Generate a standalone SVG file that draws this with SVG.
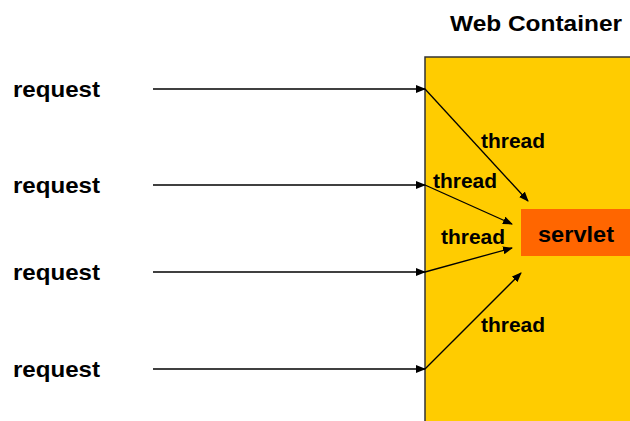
<svg xmlns="http://www.w3.org/2000/svg" width="630" height="421" viewBox="0 0 630 421">
<style>
text{font-family:"Liberation Sans",Arial,sans-serif;font-weight:bold;fill:#000;}
.lbl{font-size:22px;}
.th{font-size:20px;}
.ln{stroke:#000;stroke-width:1.3;fill:none;marker-end:url(#ah);}
</style>
<defs>
<marker id="ah" markerWidth="10" markerHeight="8" refX="9" refY="4" orient="auto" markerUnits="userSpaceOnUse">
<path d="M0,0 L10,4 L0,8 Z" fill="#000"/>
</marker>
</defs>
<rect width="630" height="421" fill="#fff"/>
<g id="container">
<rect x="425" y="57" width="210" height="370" fill="#FFCC00" stroke="#333" stroke-width="1.5"/>
<text x="450" y="31" class="lbl" textLength="172" lengthAdjust="spacingAndGlyphs">Web Container</text>
</g>
<g id="servlet">
<rect x="521" y="209" width="112" height="47" fill="#FF6600"/>
<text x="538" y="242" class="lbl" textLength="76" lengthAdjust="spacingAndGlyphs">servlet</text>
</g>
<g id="req1"><text x="13" y="97" class="lbl" textLength="87" lengthAdjust="spacingAndGlyphs">request</text></g>
<g id="req2"><text x="13" y="193" class="lbl" textLength="87" lengthAdjust="spacingAndGlyphs">request</text></g>
<g id="req3"><text x="13" y="280" class="lbl" textLength="87" lengthAdjust="spacingAndGlyphs">request</text></g>
<g id="req4"><text x="13" y="377" class="lbl" textLength="87" lengthAdjust="spacingAndGlyphs">request</text></g>
<g id="connectors">
<line class="ln" x1="153" y1="89" x2="425" y2="89"/>
<line class="ln" x1="153" y1="185" x2="425" y2="185"/>
<line class="ln" x1="153" y1="272" x2="425" y2="272"/>
<line class="ln" x1="153" y1="369" x2="425" y2="369"/>
<line class="ln" x1="425" y1="89" x2="528" y2="201"/>
<line class="ln" x1="425" y1="185" x2="512" y2="224"/>
<line class="ln" x1="425" y1="272" x2="512" y2="248"/>
<line class="ln" x1="425" y1="369" x2="521" y2="273"/>
</g>
<g id="labels">
<text x="481" y="148" class="th" textLength="64" lengthAdjust="spacingAndGlyphs">thread</text>
<text x="433" y="188" class="th" textLength="64" lengthAdjust="spacingAndGlyphs">thread</text>
<text x="441" y="244" class="th" textLength="64" lengthAdjust="spacingAndGlyphs">thread</text>
<text x="481" y="332" class="th" textLength="64" lengthAdjust="spacingAndGlyphs">thread</text>
</g>
</svg>
